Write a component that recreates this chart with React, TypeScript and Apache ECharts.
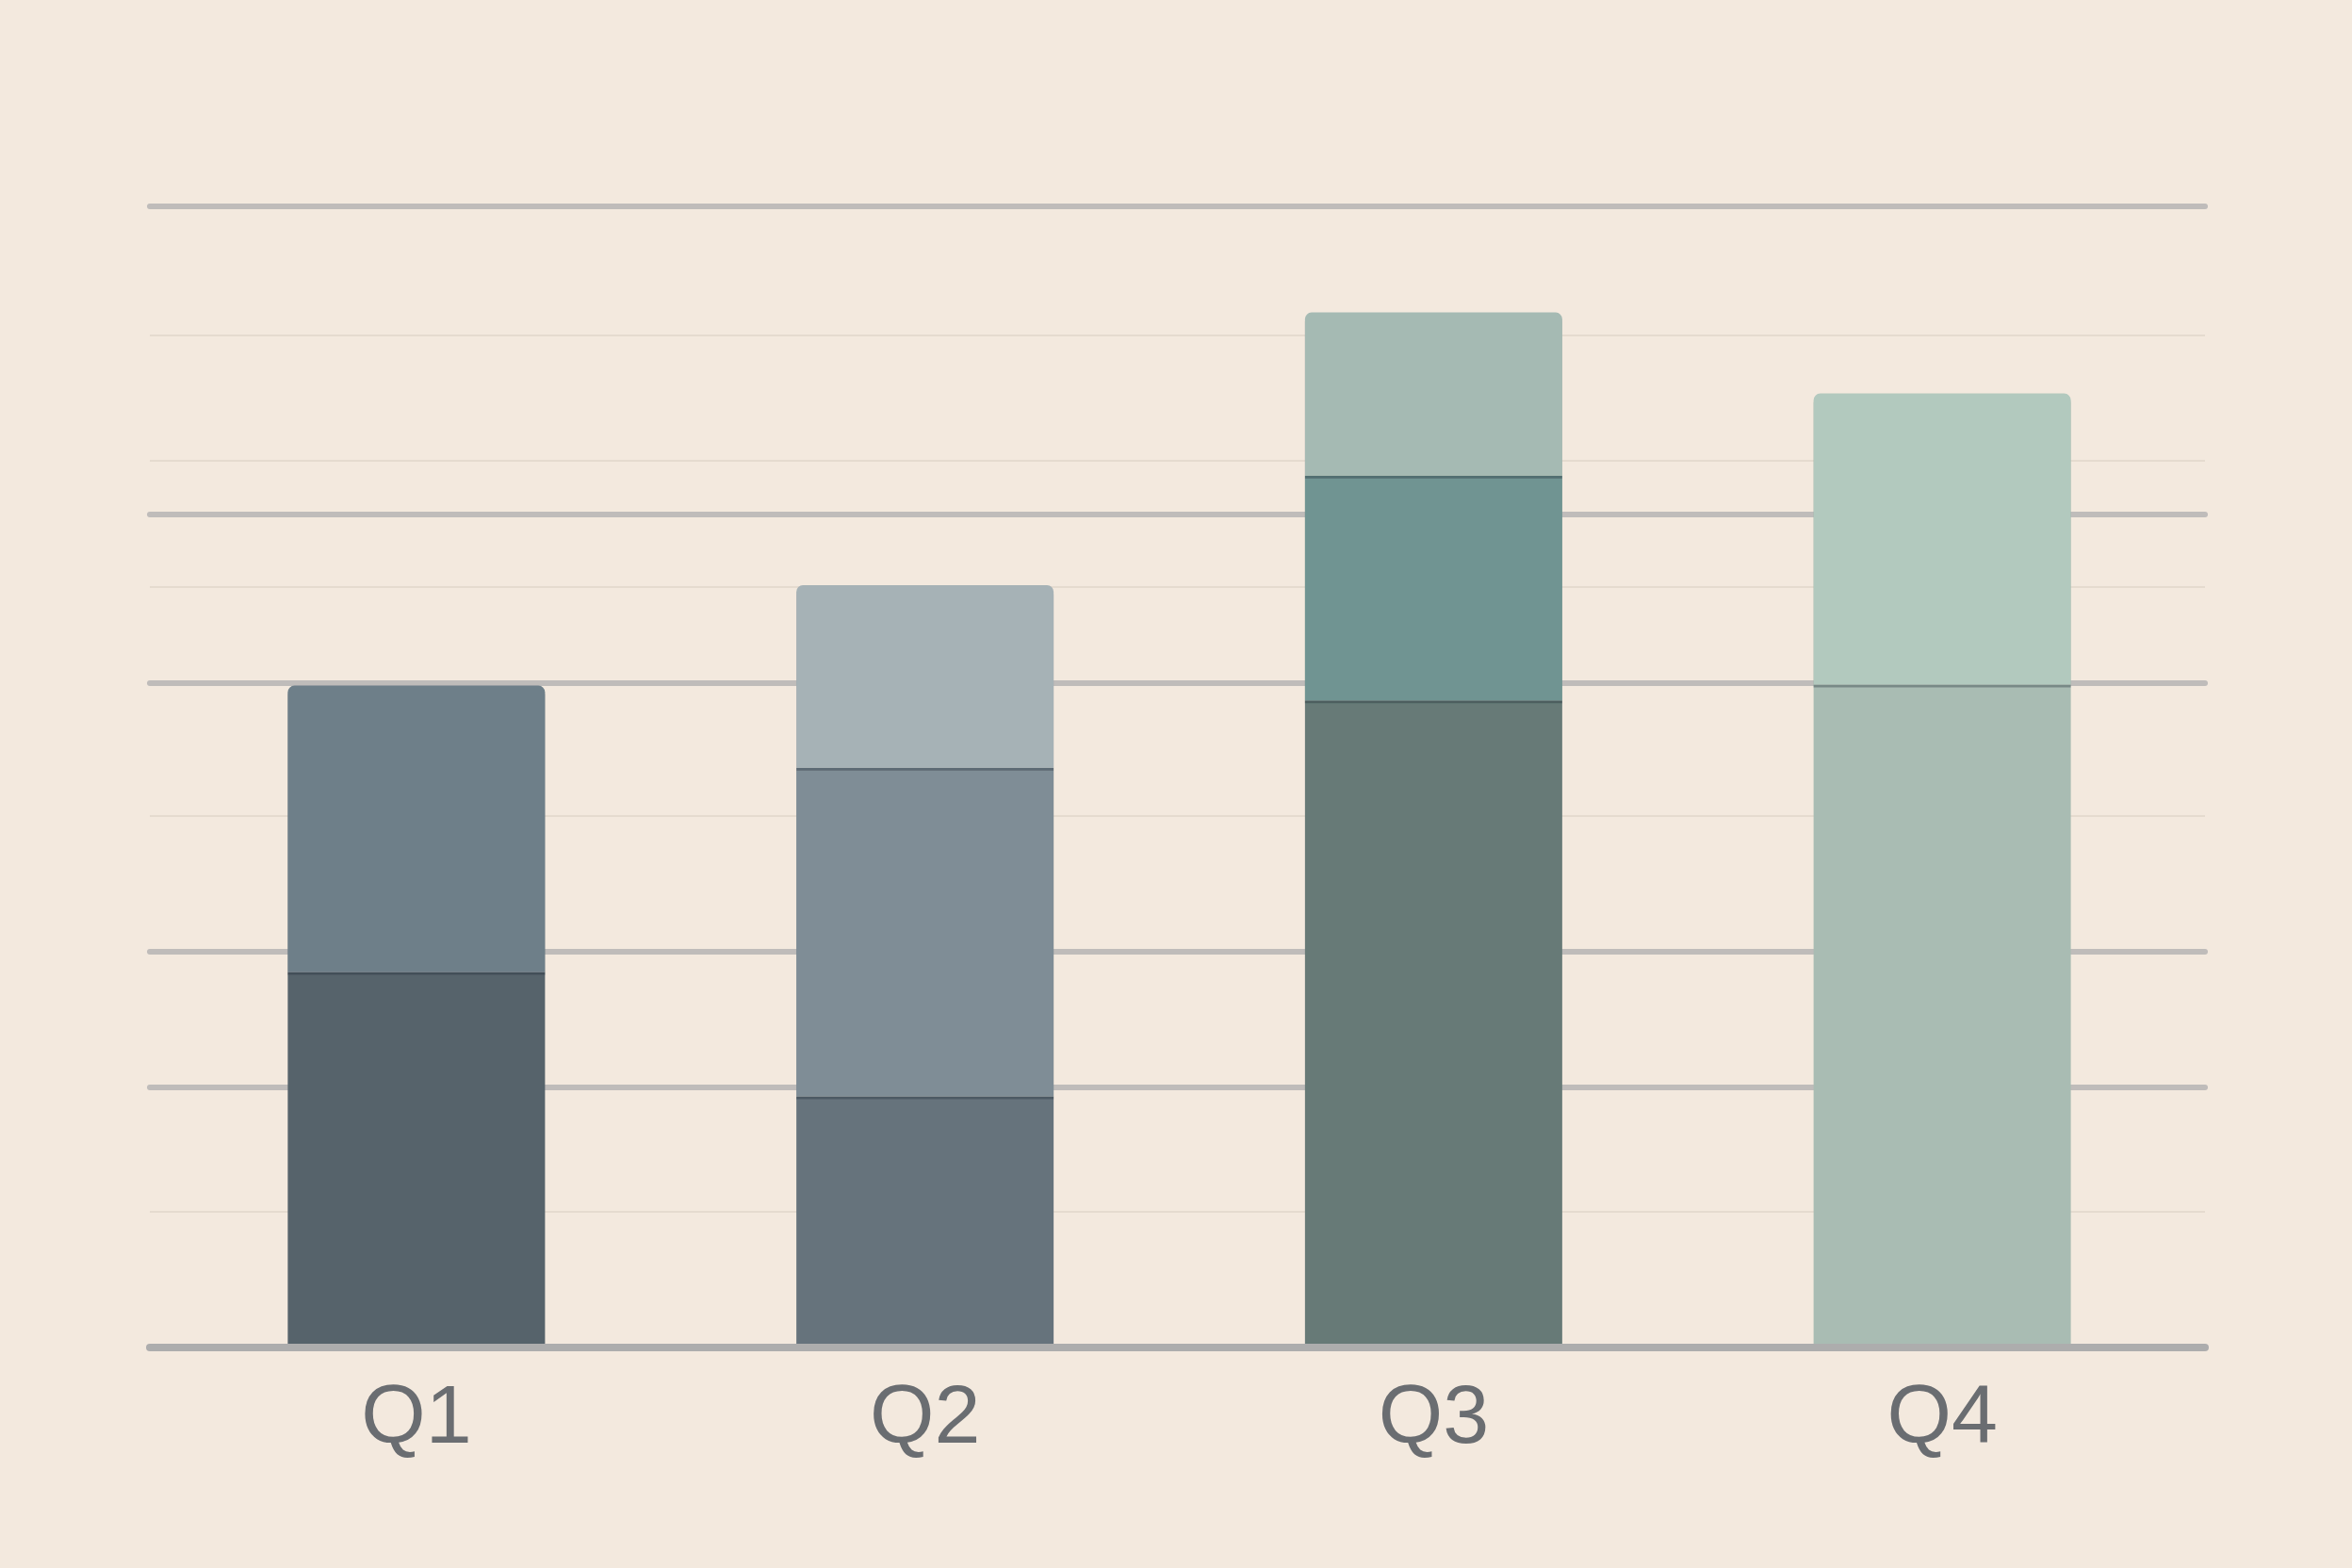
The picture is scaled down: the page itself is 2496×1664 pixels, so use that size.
import { useEffect, useRef } from 'react';
import * as echarts from 'echarts';

// quarters on the x axis
const quarters = ['Q1', 'Q2', 'Q3', 'Q4'];

// stacked segment heights (0..100 scale)
const seg1 = [32.9, 22.0, 56.7, 58.1];
const seg2 = [25.1, 28.8, 19.7, 25.5];
const seg3: (number | null)[] = [null, 16.0, 14.3, null];

// each bar has its own palette
const seg1Colors = ['#56636b', '#66737c', '#677a77', '#a9bcb3'];
const seg2Colors = ['#6e7f89', '#7f8d96', '#6f9492', '#b2c9be'];
const seg3Colors = ['', '#a6b2b6', '#a5bab3', ''];

// horizontal guide lines (values on the y scale)
const gridLines = [22.8, 34.7, 58.2, 73.0, 100];
const faintLines = [11.9, 46.6, 66.7, 77.7, 88.7];

export default function App() {
    const chartRef = useRef<HTMLDivElement>(null);

    useEffect(() => {
        if (!chartRef.current) return;
        const chart = echarts.init(chartRef.current, undefined, { renderer: 'svg' });

        const radius = [7, 7, 0, 0];
        const segShadow = {
            shadowColor: 'rgba(35, 45, 50, 0.35)',
            shadowOffsetY: 3,
            shadowBlur: 1
        };
        const fontFamily = "'Liberation Sans', Arial, sans-serif";

        const option: echarts.EChartsOption = {
            backgroundColor: '#f3e9de',
            animation: false,
            // grid 0: guide lines + baseline (wider), grid 1: bars
            grid: [
                { left: 159, right: 156, top: 219, bottom: 234 },
                { left: 172, right: 165, top: 219, bottom: 234 }
            ],
            xAxis: [
                {
                    type: 'category',
                    gridIndex: 0,
                    data: quarters,
                    axisLine: { lineStyle: { color: '#adadad', width: 8, cap: 'round' } },
                    axisTick: { show: false },
                    axisLabel: { show: false },
                    z: 10
                },
                {
                    type: 'category',
                    gridIndex: 1,
                    data: quarters,
                    axisLine: { show: false },
                    axisTick: { show: false },
                    axisLabel: {
                        margin: 26,
                        fontSize: 88,
                        color: '#6a6d71',
                        fontFamily
                    }
                }
            ],
            yAxis: [0, 1].map(g => ({
                type: 'value' as const,
                gridIndex: g,
                min: 0,
                max: 100,
                axisLine: { show: false },
                axisTick: { show: false },
                axisLabel: { show: false },
                splitLine: { show: false }
            })),
            series: [
                {
                    name: 'guides',
                    type: 'line',
                    xAxisIndex: 0,
                    yAxisIndex: 0,
                    data: [],
                    symbol: 'none',
                    z: 1,
                    markLine: {
                        silent: true,
                        symbol: 'none',
                        z: 1,
                        label: { show: false },
                        data: [
                            ...faintLines.map(v => ({
                                yAxis: v,
                                lineStyle: { color: '#e5dbcf', width: 2, type: 'solid' as const }
                            })),
                            ...gridLines.map(v => ({
                                yAxis: v,
                                lineStyle: { color: '#bfbcba', width: 6, type: 'solid' as const, cap: 'round' as const }
                            }))
                        ]
                    }
                },
                {
                    name: 'seg1',
                    type: 'bar',
                    xAxisIndex: 1,
                    yAxisIndex: 1,
                    stack: 'total',
                    barWidth: 273,
                    z: 2,
                    data: seg1.map((v, i) => ({
                        value: v,
                        itemStyle: { color: seg1Colors[i] }
                    }))
                },
                {
                    name: 'seg2',
                    type: 'bar',
                    xAxisIndex: 1,
                    yAxisIndex: 1,
                    stack: 'total',
                    barWidth: 273,
                    z: 2,
                    data: seg2.map((v, i) => ({
                        value: v,
                        itemStyle: {
                            color: seg2Colors[i],
                            borderRadius: seg3[i] == null ? radius : 0,
                            ...segShadow
                        }
                    }))
                },
                {
                    name: 'seg3',
                    type: 'bar',
                    xAxisIndex: 1,
                    yAxisIndex: 1,
                    stack: 'total',
                    barWidth: 273,
                    z: 2,
                    data: seg3.map((v, i) => ({
                        value: v,
                        itemStyle: {
                            color: seg3Colors[i] || 'transparent',
                            borderRadius: radius,
                            ...segShadow
                        }
                    }))
                }
            ]
        };

        chart.setOption(option);

        return () => {
            chart.dispose();
        };
    }, []);

    return (
        <div
            ref={chartRef}
            style={{ position: 'fixed', left: 0, top: 0, width: '2496px', height: '1664px' }}
        />
    );
}
